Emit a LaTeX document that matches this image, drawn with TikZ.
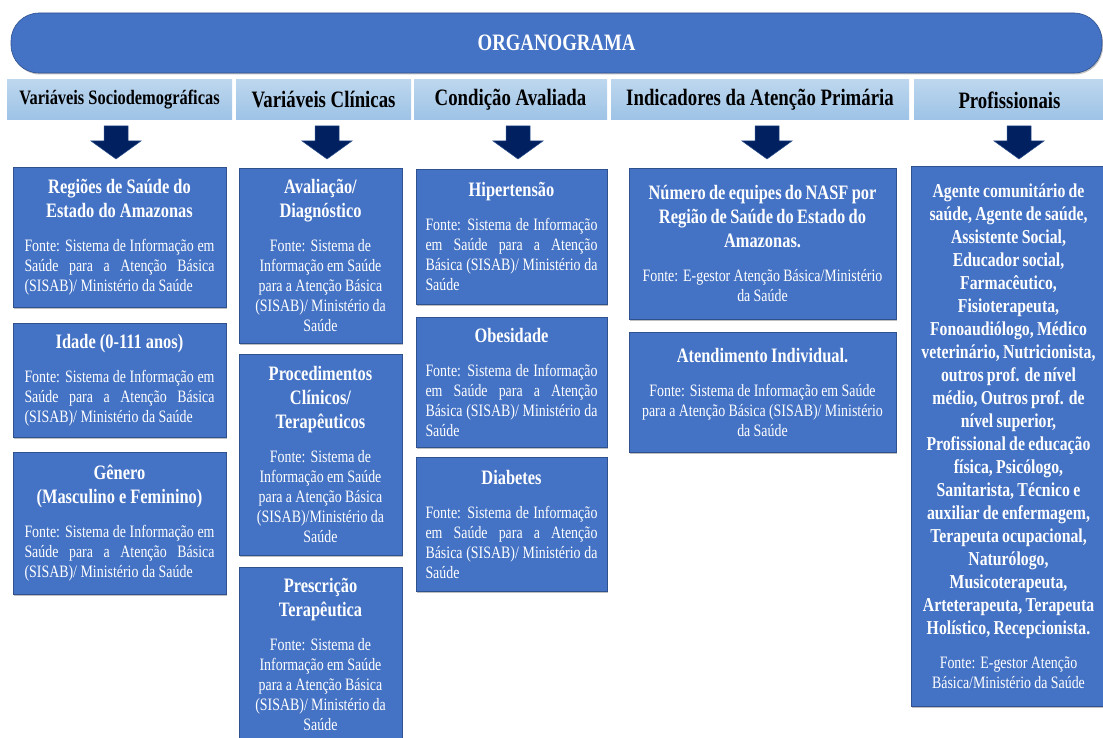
\documentclass[tikz,border=0pt]{standalone}
\usepackage{fontspec}
\setmainfont[FakeStretch=0.8]{Liberation Serif}
\usepackage{tikz}
\usetikzlibrary{shadows}
\usepackage{xcolor}
\definecolor{boxblue}{HTML}{4472C4}
\definecolor{boxline}{HTML}{2F528F}
\definecolor{headtop}{HTML}{BDD7EE}
\definecolor{headbot}{HTML}{9DC3E6}
\definecolor{navy}{HTML}{002060}
\newcommand{\ttlfont}{\bfseries\fontsize{20.5}{24}\selectfont}
\newcommand{\srcfont}{\fontsize{17.4}{20}\selectfont}
\newcommand{\prffont}{\bfseries\fontsize{19.7}{23}\selectfont}
\newcommand{\hdfont}{\bfseries\fontsize{23.5}{26}\selectfont}
\newcommand{\hdsmall}{\bfseries\fontsize{20.5}{24}\selectfont}

\begin{document}
\begin{tikzpicture}[x=1pt,y=-1pt]

\tikzset{box/.style = {rectangle,draw=boxline,fill=boxblue,text=white,inner sep=0pt,line width=0.6pt,
  drop shadow={shadow xshift=1pt,shadow yshift=-1.5pt,fill=black,opacity=0.25}}}
\tikzset{head/.style = {rectangle,top color=headtop,bottom color=headbot,inner sep=0pt,minimum height=40pt,font=\hdfont}}
\tikzset{blockarrow/.style = {fill=navy,draw=boxline,line width=0.5pt}}

\useasboundingbox (0,0) rectangle (1103,738);

% banner
\node[box,rounded corners=28pt,minimum width=1091pt,minimum height=60pt,font=\hdfont] (organo) at (556.5,43) {ORGANOGRAMA};

% headers
\node[head,minimum width=225pt,font=\hdsmall] (socio) at (119.5,100) {Variáveis Sociodemográficas};
\node[head,minimum width=175pt] (clin) at (323.5,100) {Variáveis Clínicas};
\node[head,minimum width=193pt] (cond) at (510.5,100) {Condição Avaliada};
\node[head,minimum width=298pt] (indic) at (760,100) {Indicadores da Atenção Primária};
\node[head,minimum width=191pt] (prof) at (1009.5,100) {Profissionais};

% arrows
\foreach \ax in {116,327,518,767,1019}
  \draw[blockarrow] (\ax-12,126) -- (\ax+12,126) -- (\ax+12,141) -- (\ax+25,141) -- (\ax,159)
    -- (\ax-25,141) -- (\ax-12,141) -- cycle;

% sociodemograficas
\node[box,align=justify,text width=190pt,minimum width=213pt,minimum height=140pt] (regioes) at (119.5,237)
  {{\centering\ttlfont Regiões de Saúde do\par Estado do Amazonas\par}\vspace{14pt}\srcfont
   Fonte: Sistema de Informação em\linebreak Saúde para a Atenção Básica\linebreak (SISAB)/ Ministério da Saúde\par};
\node[box,align=justify,text width=190pt,minimum width=213pt,minimum height=114pt] (idade) at (119.5,380)
  {{\centering\ttlfont Idade (0-111 anos)\par}\vspace{14pt}\srcfont
   Fonte: Sistema de Informação em\linebreak Saúde para a Atenção Básica\linebreak (SISAB)/ Ministério da Saúde\par};
\node[box,align=justify,text width=190pt,minimum width=213pt,minimum height=142pt] (genero) at (119.5,523)
  {{\centering\ttlfont Gênero\par (Masculino e Feminino)\par}\vspace{14pt}\srcfont
   Fonte: Sistema de Informação em\linebreak Saúde para a Atenção Básica\linebreak (SISAB)/ Ministério da Saúde\par};

% clinicas
\node[box,align=center,text width=158pt,minimum width=163pt,minimum height=175pt] (aval) at (320.5,255.5)
  {{\ttlfont Avaliação/\\Diagnóstico\par}\vspace{14pt}{\srcfont Fonte: Sistema de\\Informação em Saúde\\para a Atenção Básica\\(SISAB)/ Ministério da\\Saúde\par}};
\node[box,align=center,text width=158pt,minimum width=163pt,minimum height=201pt] (proc) at (320.5,454.5)
  {{\ttlfont Procedimentos\\Clínicos/\\Terapêuticos\par}\vspace{14pt}{\srcfont Fonte: Sistema de\\Informação em Saúde\\para a Atenção Básica\\(SISAB)/Ministério da\\Saúde\par}};
\node[box,align=center,text width=158pt,minimum width=163pt,minimum height=175pt] (presc) at (320.5,654.5)
  {{\ttlfont Prescrição\\Terapêutica\par}\vspace{14pt}{\srcfont Fonte: Sistema de\\Informação em Saúde\\para a Atenção Básica\\(SISAB)/ Ministério da\\Saúde\par}};

% condicao avaliada
\node[box,align=justify,text width=172pt,minimum width=191pt,minimum height=135pt] (hiper) at (511.5,236.5)
  {{\centering\ttlfont Hipertensão\par}\vspace{14pt}\srcfont
   Fonte: Sistema de Informação\linebreak em Saúde para a Atenção\linebreak Básica (SISAB)/ Ministério da\linebreak Saúde\par};
\node[box,align=justify,text width=172pt,minimum width=191pt,minimum height=130pt] (obes) at (511.5,382)
  {{\centering\ttlfont Obesidade\par}\vspace{14pt}\srcfont
   Fonte: Sistema de Informação\linebreak em Saúde para a Atenção\linebreak Básica (SISAB)/ Ministério da\linebreak Saúde\par};
\node[box,align=justify,text width=172pt,minimum width=191pt,minimum height=134pt] (diab) at (511.5,524)
  {{\centering\ttlfont Diabetes\par}\vspace{14pt}\srcfont
   Fonte: Sistema de Informação\linebreak em Saúde para a Atenção\linebreak Básica (SISAB)/ Ministério da\linebreak Saúde\par};

% indicadores
\node[box,align=center,text width=262pt,minimum width=267pt,minimum height=151pt] (nasf) at (762.5,243.5)
  {{\ttlfont Número de equipes do NASF por\\Região de Saúde do Estado do\\Amazonas.\par}\vspace{14pt}{\srcfont Fonte: E-gestor Atenção Básica/Ministério\\da Saúde\par}};
\node[box,align=center,text width=262pt,minimum width=267pt,minimum height=120pt] (atend) at (762.5,392)
  {{\ttlfont Atendimento Individual.\par}\vspace{14pt}{\srcfont Fonte: Sistema de Informação em Saúde\\para a Atenção Básica (SISAB)/ Ministério\\da Saúde\par}};

% profissionais
\node[box,align=center,text width=188pt,minimum width=195pt,minimum height=540pt] (lista) at (1008.5,436)
  {{\prffont Agente comunitário de\\saúde, Agente de saúde,\\Assistente Social,\\Educador social,\\Farmacêutico,\\Fisioterapeuta,\\Fonoaudiólogo, Médico\\veterinário, Nutricionista,\\outros prof. de nível\\médio, Outros prof. de\\nível superior,\\Profissional de educação\\física, Psicólogo,\\Sanitarista, Técnico e\\auxiliar de enfermagem,\\Terapeuta ocupacional,\\Naturólogo,\\Musicoterapeuta,\\Arteterapeuta, Terapeuta\\Holístico, Recepcionista.\par}\vspace{14pt}{\srcfont Fonte: E-gestor Atenção\\Básica/Ministério da Saúde\par}};
\end{tikzpicture}
\end{document}
